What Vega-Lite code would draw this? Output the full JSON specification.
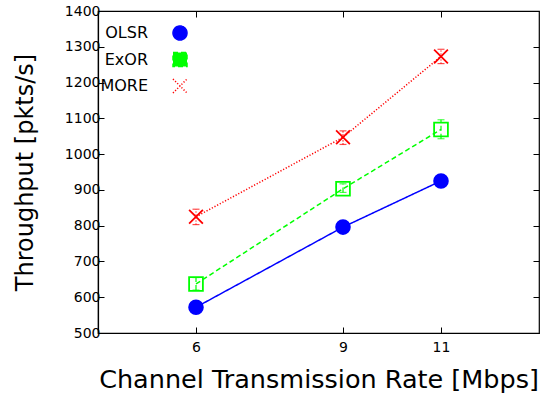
{
  "$schema": "https://vega.github.io/schema/vega-lite/v6.json",
  "width": 441,
  "height": 322,
  "autosize": "none",
  "padding": {"left": 98, "top": 11, "right": 12, "bottom": 61},
  "background": "white",
  "config": {
    "font": "DejaVu Sans",
    "view": {"stroke": "#000000", "strokeWidth": 1.2},
    "axis": {
      "grid": false,
      "domainColor": "#000000",
      "domainWidth": 1.2,
      "tickColor": "#000000",
      "tickWidth": 1,
      "labelFont": "DejaVu Sans",
      "labelFontSize": 14,
      "labelColor": "#000000",
      "titleFont": "DejaVu Sans",
      "titleFontWeight": "normal",
      "titleColor": "#000000"
    },
    "legend": {
      "labelFont": "DejaVu Sans",
      "labelFontSize": 16,
      "labelColor": "#000000"
    }
  },
  "data": {
    "values": [
      {"rate": 6, "series": "OLSR", "tput": 572, "lo": 566, "hi": 578},
      {"rate": 9, "series": "OLSR", "tput": 796, "lo": 789, "hi": 803},
      {"rate": 11, "series": "OLSR", "tput": 925, "lo": 919, "hi": 931},
      {"rate": 6, "series": "ExOR", "tput": 637, "lo": 620, "hi": 655},
      {"rate": 9, "series": "ExOR", "tput": 903, "lo": 893, "hi": 917},
      {"rate": 11, "series": "ExOR", "tput": 1069, "lo": 1043, "hi": 1096},
      {"rate": 6, "series": "MORE", "tput": 825, "lo": 803, "hi": 846},
      {"rate": 9, "series": "MORE", "tput": 1047, "lo": 1027, "hi": 1065},
      {"rate": 11, "series": "MORE", "tput": 1273, "lo": 1253, "hi": 1293}
    ]
  },
  "resolve": {"axis": {"x": "independent", "y": "independent"}},
  "layer": [
    {
      "mark": {"type": "line", "strokeWidth": 1.5},
      "encoding": {
        "x": {
          "field": "rate", "type": "quantitative",
          "scale": {"domain": [4, 13], "nice": false, "zero": false},
          "axis": {
            "values": [6, 9, 11], "tickSize": -6, "labelPadding": 13,
            "title": "Channel Transmission Rate [Mbps]", "titleFontSize": 25.5,
            "titleBaseline": "alphabetic", "titleY": 54
          }
        },
        "y": {
          "field": "tput", "type": "quantitative",
          "scale": {"domain": [500, 1400], "nice": false, "zero": false},
          "axis": {
            "values": [500, 600, 700, 800, 900, 1000, 1100, 1200, 1300, 1400],
            "format": "d",
            "tickSize": -6, "labelPadding": 4,
            "title": "Throughput [pkts/s]", "titleFontSize": 24,
            "titleAngle": -90, "titleAlign": "center", "titleBaseline": "alphabetic",
            "titleX": -66, "titleY": 161
          }
        },
        "stroke": {
          "field": "series", "type": "nominal",
          "scale": {"domain": ["OLSR", "ExOR", "MORE"], "range": ["#0000ff", "#00ff00", "#ff0000"]},
          "legend": {
            "title": null,
            "orient": "none",
            "legendX": 74,
            "legendY": 14,
            "padding": 0,
            "symbolSize": 196,
            "symbolStrokeWidth": 1.5,
            "labelAlign": "right",
            "labelBaseline": "middle",
            "labelOffset": -40,
            "rowPadding": 6.5,
            "encode": {
              "symbols": {
                "update": {
                  "shape": {"signal": "datum.value == 'OLSR' ? 'M-3.2,0L-1,0M1,0L3.2,0M-1,0A1,1 0 1,1 1,0A1,1 0 1,1 -1,0Z' : datum.value == 'ExOR' ? 'M-3.2,0L-2.7,0M-2.35,0L-1.85,0M-1.5,0L-1,0M1,0L1.5,0M1.85,0L2.35,0M2.7,0L3.2,0M-1,-1L1,-1L1,1L-1,1Z' : 'M-3.2,0L-3.05,0M-2.84,0L-2.69,0M-2.48,0L-2.33,0M-2.12,0L-1.97,0M-1.76,0L-1.61,0M-1.4,0L-1.25,0M-1.08,0L-0.95,0M0.95,0L1.08,0M1.25,0L1.4,0M1.61,0L1.76,0M1.97,0L2.12,0M2.33,0L2.48,0M2.69,0L2.84,0M3.05,0L3.2,0M-0.93,-0.93L0.93,0.93M-0.93,0.93L0.93,-0.93'"},
                  "fill": {"signal": "datum.value == 'OLSR' ? '#0000ff' : 'transparent'"},
                  "stroke": {"signal": "datum.value == 'OLSR' ? '#0000ff' : datum.value == 'ExOR' ? '#00ff00' : '#ff0000'"},
                  "strokeWidth": {"value": 1.5},
                  "opacity": {"value": 1}
                }
              }
            }
          }
        },
        "strokeDash": {
          "field": "series", "type": "nominal",
          "scale": {"domain": ["OLSR", "ExOR", "MORE"], "range": [[1, 0], [5, 3], [1.2, 1.8]]},
          "legend": null
        }
      }
    },
    {
      "mark": {"type": "rule", "strokeWidth": 1.2},
      "encoding": {
        "x": {"field": "rate", "type": "quantitative", "axis": null},
        "y": {"field": "lo", "type": "quantitative", "axis": null},
        "y2": {"field": "hi"},
        "stroke": {"field": "series", "type": "nominal", "legend": null},
        "strokeDash": {"field": "series", "type": "nominal", "legend": null}
      }
    },
    {
      "mark": {"type": "tick", "orient": "horizontal", "size": 7, "thickness": 1.2},
      "encoding": {
        "x": {"field": "rate", "type": "quantitative", "axis": null},
        "y": {"field": "lo", "type": "quantitative", "axis": null},
        "color": {"field": "series", "type": "nominal",
          "scale": {"domain": ["OLSR", "ExOR", "MORE"], "range": ["#0000ff", "#00ff00", "#ff0000"]}, "legend": null}
      }
    },
    {
      "mark": {"type": "tick", "orient": "horizontal", "size": 7, "thickness": 1.2},
      "encoding": {
        "x": {"field": "rate", "type": "quantitative", "axis": null},
        "y": {"field": "hi", "type": "quantitative", "axis": null},
        "color": {"field": "series", "type": "nominal", "legend": null}
      }
    },
    {
      "mark": {"type": "point", "size": 190, "strokeWidth": 1.8, "opacity": 1},
      "encoding": {
        "x": {"field": "rate", "type": "quantitative",
          "axis": {"orient": "top", "values": [6, 9, 11], "tickSize": -6, "labels": false, "title": null, "domain": false}},
        "y": {"field": "tput", "type": "quantitative",
          "axis": {"orient": "right", "values": [500, 600, 700, 800, 900, 1000, 1100, 1200, 1300, 1400], "tickSize": -6, "labels": false, "title": null, "domain": false}},
        "shape": {"field": "series", "type": "nominal",
          "scale": {"domain": ["OLSR", "ExOR", "MORE"], "range": ["circle", "square", "M-1,-1L1,1M-1,1L1,-1"]}, "legend": null},
        "stroke": {"field": "series", "type": "nominal", "legend": null},
        "fill": {"field": "series", "type": "nominal",
          "scale": {"domain": ["OLSR", "ExOR", "MORE"], "range": ["#0000ff", "transparent", "transparent"]}, "legend": null}
      }
    }
  ]
}
